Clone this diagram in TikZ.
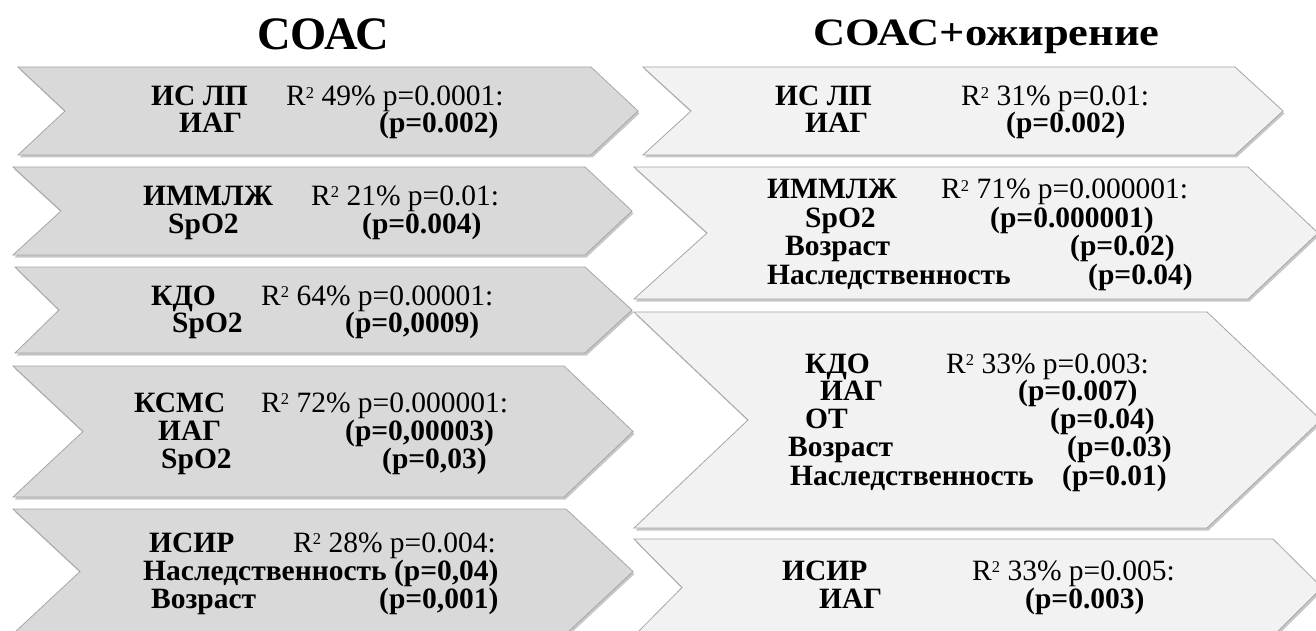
\documentclass[tikz,border=0pt]{standalone}
\usepackage{fontspec}
\setmainfont{Liberation Serif}
\definecolor{lfill}{HTML}{D9D9D9}
\definecolor{rfill}{HTML}{F2F2F2}
\definecolor{edgec}{HTML}{A6A6A6}
\newcommand\mychev[7]{%
  \fill[shadowc, shift={(1.5,2.5)}] (#1,#2) -- (#5,#2) -- (#6,{(#2+#3)/2}) -- (#5,#3) -- (#1,#3) -- (#4,{(#2+#3)/2}) -- cycle;
  \filldraw[#7] (#1,#2) -- (#5,#2) -- (#6,{(#2+#3)/2}) -- (#5,#3) -- (#1,#3) -- (#4,{(#2+#3)/2}) -- cycle;}
\newcommand\rsq{R\raisebox{7.7pt}{\fontsize{16.5}{16.5}\selectfont 2}}
\begin{document}
\begin{tikzpicture}[x=1pt,y=-1pt,
  shadowc/.style={fill=black, opacity=0.22},
  lbox/.style={fill=lfill, draw=edgec, line width=0.8pt},
  rbox/.style={fill=rfill, draw=edgec, line width=0.8pt},
  lab/.style={anchor=base west, inner sep=0pt, font=\fontsize{29.5}{29.5}\selectfont\bfseries},
  val/.style={anchor=base west, inner sep=0pt, font=\fontsize{29.5}{29.5}\selectfont},
  ttl/.style={anchor=base west, inner sep=0pt, font=\fontsize{46.5}{46.5}\selectfont\bfseries}]
\useasboundingbox (0,0) rectangle (1316,631);
\fill[white] (0,0) rectangle (1316,631);
\clip (0,0) rectangle (1316,631);
% titles
\node[ttl] (t1) at (257,50) {СОАС};
\node[ttl, font=\fontsize{44.5}{44.5}\selectfont\bfseries, yscale=0.87, transform shape] (t2) at (813,46) {СОАС+ожирение};
% left column
\mychev{18}{67}{155}{65}{591}{638}{lbox}
\mychev{13}{167}{255}{61}{585}{632}{lbox}
\mychev{15}{267}{353}{59}{585}{632}{lbox}
\mychev{13}{366}{497}{83}{564}{633}{lbox}
\mychev{13}{509}{634}{80}{566}{633}{lbox}
% right column
\mychev{643}{67}{155}{691}{1235}{1283}{rbox}
\mychev{634}{167}{299}{707}{1248}{1318}{rbox}
\mychev{634}{312}{528}{748}{1207}{1321}{rbox}
\mychev{634}{539}{636}{682}{1273}{1322}{rbox}
% L1
\node[lab] (l1a) at (151,106) {ИС ЛП};
\node[val] (l1b) at (286,106) {\rsq{} 49\% p=0.0001:};
\node[lab] (l1c) at (179,133) {ИАГ};
\node[lab] (l1d) at (379,133) {(p=0.002)};
% L2
\node[lab] (l2a) at (143,205) {ИММЛЖ};
\node[val] (l2b) at (311,205) {\rsq{} 21\% p=0.01:};
\node[lab] (l2c) at (168,233) {SpO2};
\node[lab] (l2d) at (362,233) {(p=0.004)};
% L3
\node[lab] (l3a) at (151,305) {КДО};
\node[val] (l3b) at (261,305) {\rsq{} 64\% p=0.00001:};
\node[lab] (l3c) at (172,332) {SpO2};
\node[lab] (l3d) at (345,332) {(p=0,0009)};
% L4
\node[lab] (l4a) at (134,412) {КСМС};
\node[val] (l4b) at (261,412) {\rsq{} 72\% p=0.000001:};
\node[lab] (l4c) at (158,440) {ИАГ};
\node[lab] (l4d) at (345,440) {(p=0,00003)};
\node[lab] (l4e) at (161,468) {SpO2};
\node[lab] (l4f) at (382,468) {(p=0,03)};
% L5
\node[lab] (l5a) at (149,552) {ИСИР};
\node[val] (l5b) at (293,552) {\rsq{} 28\% p=0.004:};
\node[lab] (l5c) at (143,580) {Наследственность (p=0,04)};
\node[lab] (l5d) at (151,608) {Возраст};
\node[lab] (l5e) at (379,608) {(p=0,001)};
% R1
\node[lab] (r1a) at (775,106) {ИС ЛП};
\node[val] (r1b) at (961,106) {\rsq{} 31\% p=0.01:};
\node[lab] (r1c) at (805,133) {ИАГ};
\node[lab] (r1d) at (1006,133) {(p=0.002)};
% R2
\node[lab] (r2a) at (767,199) {ИММЛЖ};
\node[val] (r2b) at (941,199) {\rsq{} 71\% p=0.000001:};
\node[lab] (r2c) at (805,227) {SpO2};
\node[lab] (r2d) at (990,227) {(p=0.000001)};
\node[lab] (r2e) at (785,255) {Возраст};
\node[lab] (r2f) at (1070,255) {(p=0.02)};
\node[lab] (r2g) at (767,284) {Наследственность};
\node[lab] (r2h) at (1088,284) {(p=0.04)};
% R3
\node[lab] (r3a) at (805,373) {КДО};
\node[val] (r3b) at (946,373) {\rsq{} 33\% p=0.003:};
\node[lab] (r3c) at (820,400) {ИАГ};
\node[lab] (r3d) at (1018,400) {(p=0.007)};
\node[lab] (r3e) at (805,428) {ОТ};
\node[lab] (r3f) at (1050,428) {(p=0.04)};
\node[lab] (r3g) at (788,456) {Возраст};
\node[lab] (r3h) at (1067,456) {(p=0.03)};
\node[lab] (r3i) at (790,485) {Наследственность};
\node[lab] (r3j) at (1062,485) {(p=0.01)};
% R4
\node[lab] (r4a) at (782,580) {ИСИР};
\node[val] (r4b) at (972,580) {\rsq{} 33\% p=0.005:};
\node[lab] (r4c) at (819,608) {ИАГ};
\node[lab] (r4d) at (1025,608) {(p=0.003)};
\end{tikzpicture}
\end{document}
